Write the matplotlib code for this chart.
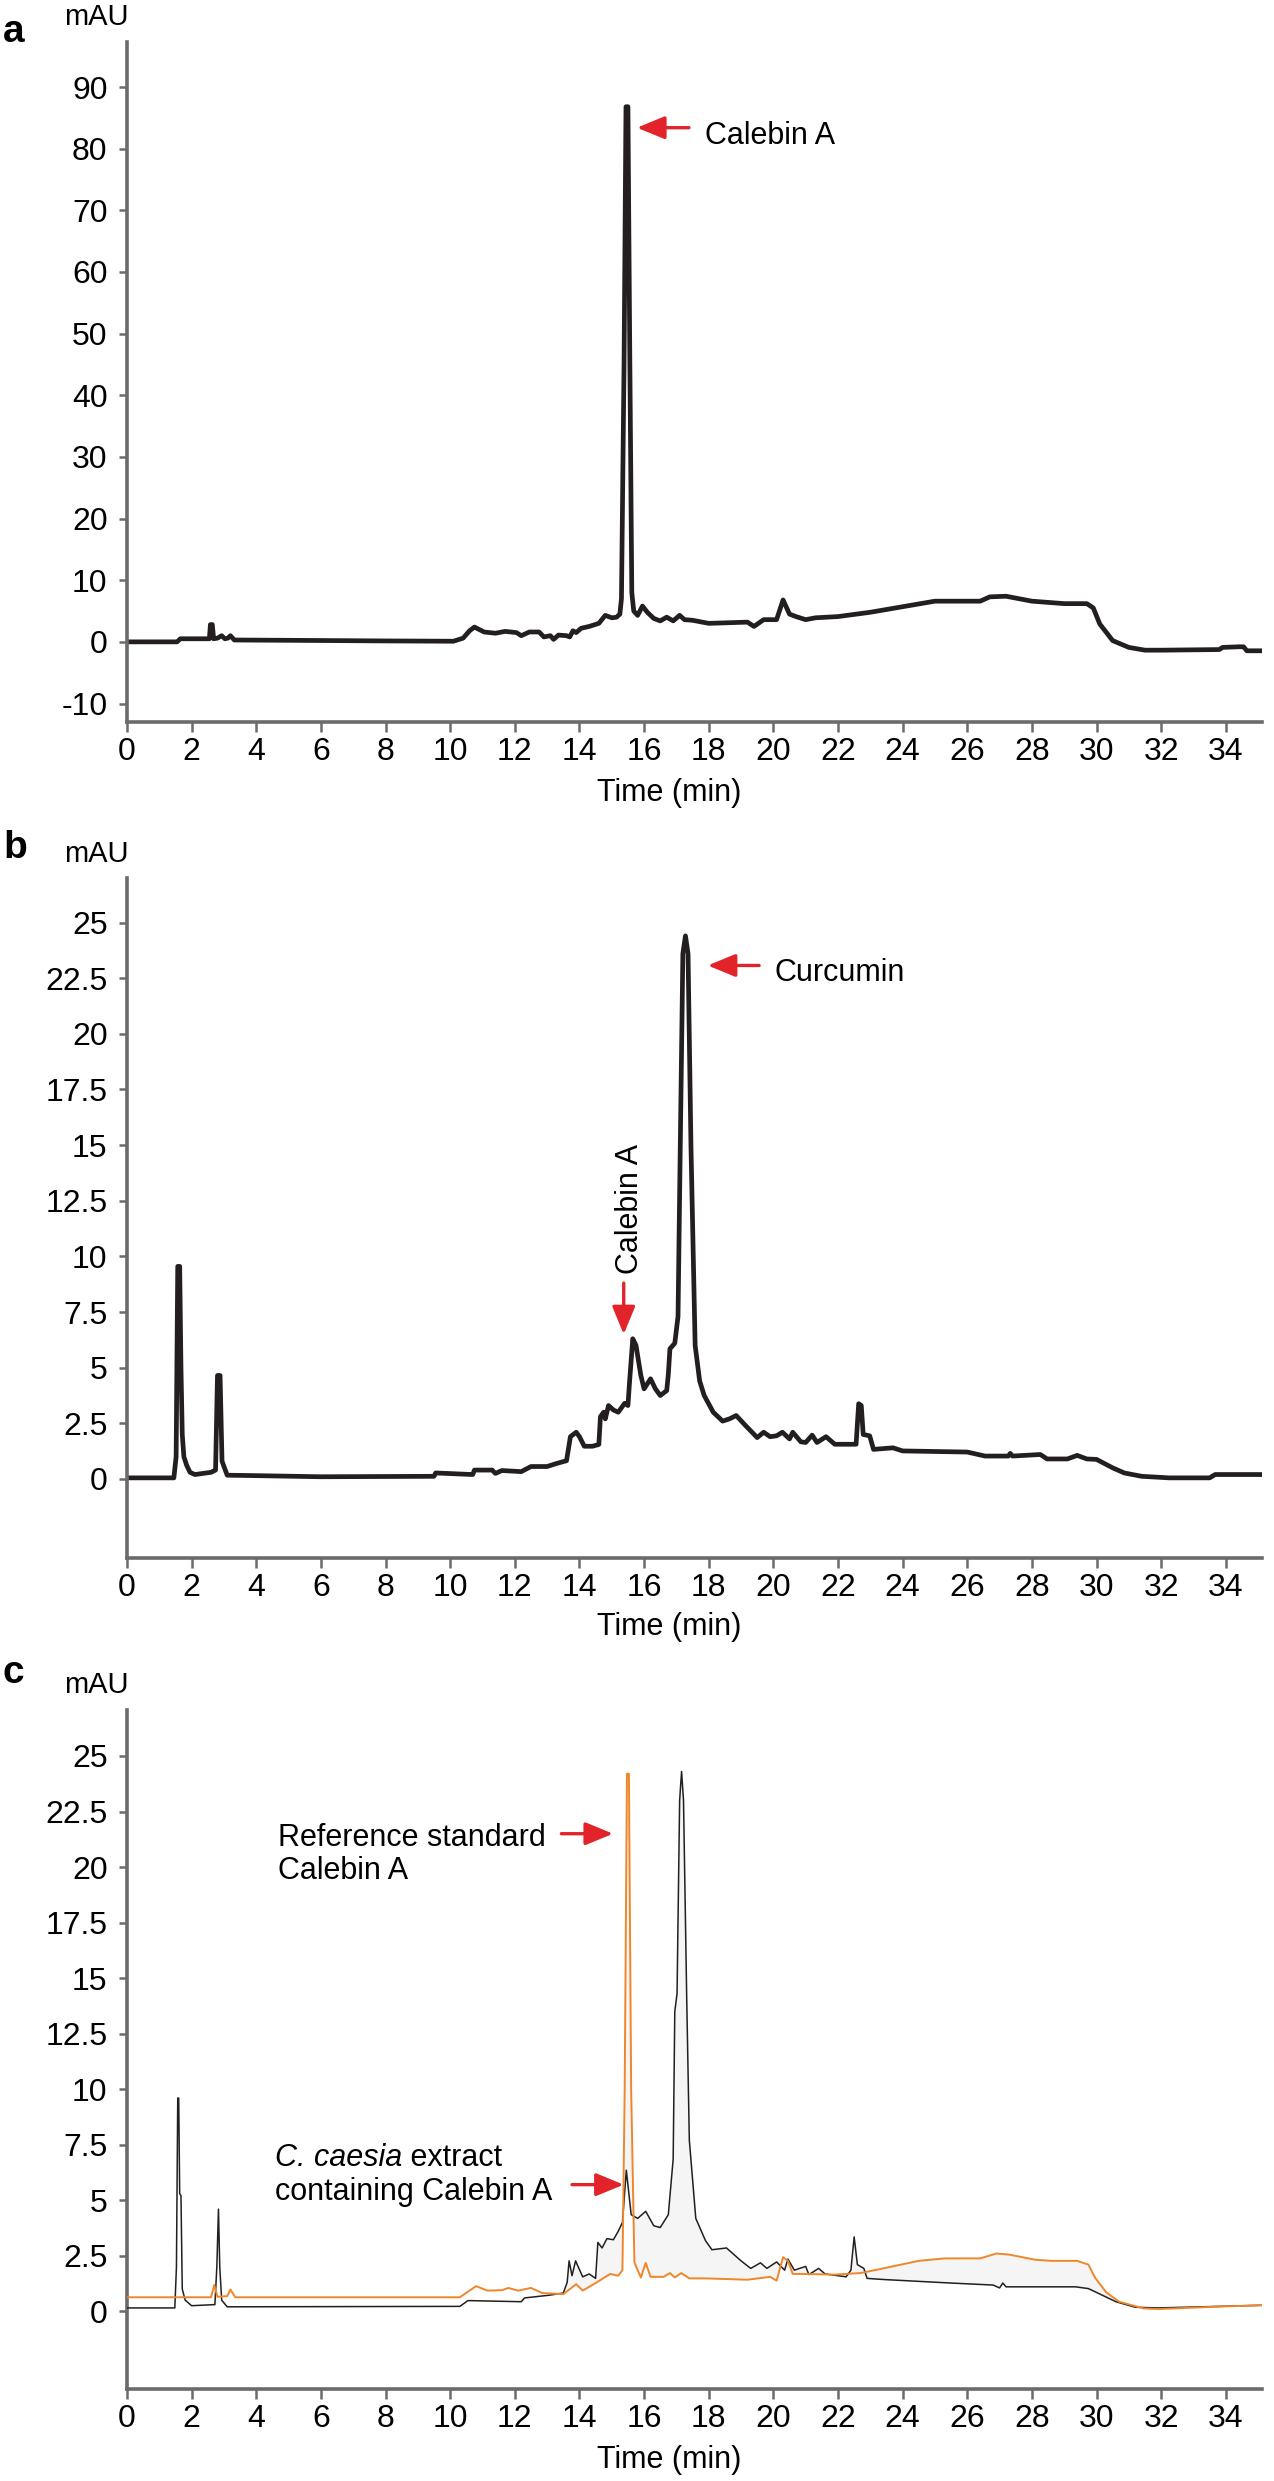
import numpy as np
import matplotlib
matplotlib.use("Agg")
import matplotlib.pyplot as plt

plt.rcParams['font.family'] = ['Liberation Sans', 'DejaVu Sans']

# ---------------- data ----------------
X_TICKS = list(range(0, 35, 2))
Y_TICKS_A = list(range(-10, 91, 10))
Y_TICKS_BC = [0, 2.5, 5, 7.5, 10, 12.5, 15, 17.5, 20, 22.5, 25]
Y_LABELS_BC = ['0', '2.5', '5', '7.5', '10', '12.5', '15', '17.5', '20', '22.5', '25']

# panel a: reference standard Calebin A
TIME_A = [0.0, 1.55, 1.65, 2.55, 2.58, 2.64, 2.68, 2.8, 2.93, 3.03, 3.12, 3.2, 3.32, 5.0, 8.0,
          10.1, 10.4, 10.6, 10.75, 11.05, 11.4, 11.7, 12.05, 12.2, 12.45, 12.75, 12.9, 13.1, 13.2,
          13.35, 13.6, 13.7, 13.8, 13.9, 14.05, 14.3, 14.6, 14.8, 15.0, 15.15, 15.25, 15.3, 15.38,
          15.44, 15.5, 15.56, 15.62, 15.68, 15.8, 15.95, 16.1, 16.3, 16.5, 16.7, 16.9, 17.1, 17.25,
          17.5, 18.0, 19.2, 19.4, 19.7, 20.1, 20.3, 20.5, 20.7, 21.0, 21.3, 22.0, 23.0, 24.0, 25.0,
          26.0, 26.4, 26.7, 27.2, 28.0, 29.0, 29.7, 29.9, 30.1, 30.5, 31.0, 31.5, 32.0, 33.8, 33.9,
          34.4, 34.55, 34.65, 35.12]
MAU_A = [0.0, 0.0, 0.5, 0.5, 2.8, 2.8, 0.5, 0.6, 1.0, 0.5, 0.6, 1.0, 0.3, 0.25, 0.15,
         0.1, 0.6, 1.8, 2.4, 1.6, 1.4, 1.7, 1.5, 1.0, 1.6, 1.6, 0.8, 1.0, 0.4,
         1.1, 1.0, 0.8, 1.8, 1.5, 2.2, 2.5, 3.0, 4.3, 3.9, 4.0, 4.5, 7.0, 45.0,
         86.8, 86.8, 45.0, 8.0, 5.0, 4.3, 5.8, 4.8, 3.8, 3.4, 4.0, 3.4, 4.3, 3.6,
         3.5, 3.0, 3.2, 2.5, 3.6, 3.6, 6.8, 4.5, 4.1, 3.6, 3.9, 4.1, 4.8, 5.7, 6.6,
         6.6, 6.6, 7.3, 7.4, 6.6, 6.2, 6.2, 5.5, 2.9, 0.2, -0.9, -1.35, -1.35, -1.25, -0.9,
         -0.8, -0.8, -1.45, -1.45]

# panel b: C. caesia extract
TIME_B = [0.0, 1.45, 1.52, 1.57, 1.63, 1.67, 1.71, 1.76, 1.85, 1.95, 2.1, 2.6, 2.74, 2.8, 2.88,
          2.94, 3.1, 4.0, 6.0, 9.5, 9.55, 10.7, 10.75, 11.3, 11.4, 11.6, 12.2, 12.5, 13.0, 13.3,
          13.6, 13.72, 13.9, 14.0, 14.15, 14.4, 14.6, 14.65, 14.75, 14.8, 14.9, 15.05, 15.2, 15.4,
          15.5, 15.55, 15.65, 15.75, 15.9, 16.0, 16.2, 16.35, 16.5, 16.7, 16.75, 16.8, 16.95, 17.05,
          17.12, 17.2, 17.28, 17.36, 17.45, 17.58, 17.72, 17.86, 18.14, 18.43, 18.64, 18.85, 19.14,
          19.5, 19.7, 19.9, 20.1, 20.28, 20.5, 20.6, 20.85, 21.0, 21.2, 21.35, 21.63, 21.9, 22.56,
          22.64, 22.72, 22.78, 22.98, 23.1, 23.7, 24.0, 26.0, 26.55, 27.27, 27.33, 27.4, 28.26,
          28.47, 29.1, 29.4, 29.7, 30.0, 30.5, 30.86, 31.4, 32.25, 33.5, 33.67, 35.12]
MAU_B = [0.05, 0.05, 1.0, 9.55, 9.55, 5.0, 2.0, 1.0, 0.6, 0.3, 0.2, 0.3, 0.4, 4.65, 4.65,
         0.8, 0.17, 0.15, 0.1, 0.12, 0.27, 0.2, 0.4, 0.4, 0.25, 0.38, 0.33, 0.56, 0.56, 0.7,
         0.82, 1.9, 2.1, 1.9, 1.47, 1.47, 1.55, 2.8, 3.0, 2.7, 3.3, 3.1, 3.0, 3.4,
         3.3, 4.35, 6.3, 6.0, 4.65, 4.05, 4.5, 4.05, 3.75, 3.97, 4.7, 5.85, 6.1, 7.3,
         15.0, 23.6, 24.4, 23.6, 15.0, 6.0, 4.4, 3.75, 3.0, 2.6, 2.7, 2.85, 2.4,
         1.86, 2.1, 1.9, 1.94, 2.1, 1.8, 2.1, 1.67, 1.64, 1.97, 1.64, 1.9, 1.56, 1.56,
         3.38, 3.3, 2.0, 1.94, 1.33, 1.4, 1.26, 1.21, 1.03, 1.03, 1.15, 1.03, 1.1,
         0.9, 0.9, 1.06, 0.9, 0.88, 0.5, 0.27, 0.12, 0.05, 0.05, 0.2, 0.2]

# panel c: overlay (black = extract, orange = reference standard)
TIME_C_EXT = [0.0, 1.48, 1.53, 1.57, 1.6, 1.63, 1.67, 1.71, 1.8, 2.0, 2.72, 2.78, 2.83, 2.87,
              2.93, 3.1, 10.3, 10.55, 12.2, 12.3, 13.05, 13.5, 13.62, 13.68, 13.77, 13.88, 14.1,
              14.3, 14.5, 14.57, 14.7, 14.85, 15.05, 15.2, 15.33, 15.45, 15.6, 15.8, 16.05, 16.3,
              16.5, 16.75, 16.9, 16.95, 17.02, 17.1, 17.16, 17.22, 17.32, 17.4, 17.6, 17.9, 18.1,
              18.55, 19.0, 19.3, 19.6, 19.8, 20.1, 20.35, 20.45, 20.65, 21.0, 21.1, 21.4, 21.6,
              22.25, 22.4, 22.5, 22.6, 22.8, 22.9, 23.4, 25.5, 26.8, 27.0, 27.1, 27.2, 29.35,
              29.75, 30.6, 31.2, 31.9, 35.12]
MAU_C_EXT = [0.15, 0.15, 2.0, 9.6, 9.6, 5.3, 5.2, 1.0, 0.5, 0.25, 0.3, 2.0, 4.6, 2.0,
             0.5, 0.2, 0.22, 0.48, 0.43, 0.6, 0.72, 0.82, 1.3, 2.27, 1.6, 2.27, 1.55,
             1.68, 1.48, 3.1, 2.85, 3.27, 3.22, 3.6, 4.0, 6.35, 4.35, 4.18, 4.5, 3.85,
             3.77, 4.35, 6.85, 13.5, 14.3, 23.0, 24.3, 23.0, 14.0, 7.7, 4.18, 3.18, 2.77,
             2.85, 2.27, 1.93, 2.18, 1.93, 2.22, 1.85, 2.35, 1.85, 2.02, 1.65, 1.93, 1.68,
             1.55, 1.85, 3.35, 2.1, 1.93, 1.48, 1.43, 1.27, 1.18, 1.05, 1.27, 1.1, 1.1,
             1.02, 0.43, 0.18, 0.15, 0.27]
TIME_C_REF = [0.0, 2.6, 2.7, 2.8, 3.1, 3.2, 3.35, 10.3, 10.8, 11.15, 11.6, 11.8, 12.1, 12.5,
              12.85, 13.5, 13.9, 14.1, 14.5, 14.95, 15.2, 15.33, 15.4, 15.47, 15.53, 15.6, 15.7,
              15.9, 16.05, 16.2, 16.6, 16.8, 16.95, 17.15, 17.4, 17.9, 19.2, 19.9, 20.1, 20.3,
              20.45, 20.6, 20.9, 21.9, 22.7, 23.4, 24.5, 25.3, 26.4, 26.9, 27.3, 28.1, 28.6,
              29.4, 29.75, 29.95, 30.3, 30.7, 31.45, 31.9, 34.0, 35.12]
MAU_C_REF = [0.63, 0.63, 1.18, 0.65, 0.68, 0.98, 0.63, 0.63, 1.13, 0.93, 0.95, 1.05, 0.93, 1.05,
             0.82, 0.77, 1.22, 0.93, 1.27, 1.68, 1.6, 1.85, 10.0, 24.2, 24.2, 10.0, 2.2,
             1.52, 2.18, 1.55, 1.55, 1.72, 1.52, 1.72, 1.48, 1.48, 1.42, 1.55, 1.38, 2.43,
             2.27, 1.68, 1.68, 1.65, 1.72, 1.93, 2.27, 2.38, 2.38, 2.6, 2.55, 2.32, 2.27,
             2.27, 2.1, 1.52, 0.85, 0.43, 0.13, 0.1, 0.22, 0.27]

assert len(TIME_A) == len(MAU_A)
assert len(TIME_B) == len(MAU_B)
assert len(TIME_C_EXT) == len(MAU_C_EXT)
assert len(TIME_C_REF) == len(MAU_C_REF)

# ---------------- style ----------------
W, H = 1274, 2481
AXC = '#6b6b6b'
INK = '#231f20'
ORANGE = '#f0862a'
RED = '#e3232a'
SHADE = '#f5f5f5'
FS = 22
TICKFS = 23

fig = plt.figure(figsize=(W / 100, H / 100), dpi=100)


def make_axes(top, bottom, left=127, right=1262):
    return fig.add_axes([left / W, 1 - bottom / H, (right - left) / W, (bottom - top) / H])


def style(ax, ylim, yticks, ylabels):
    ax.set_xlim(0, 35.12)
    ax.set_ylim(*ylim)
    ax.patch.set_alpha(0)
    for s in ('top', 'right'):
        ax.spines[s].set_visible(False)
    for s in ('left', 'bottom'):
        ax.spines[s].set_color(AXC)
        ax.spines[s].set_linewidth(2.6)
        ax.spines[s].set_capstyle('projecting')
    ax.set_xticks(X_TICKS)
    ax.set_xticklabels([str(v) for v in X_TICKS])
    ax.set_yticks(yticks)
    ax.set_yticklabels(ylabels)
    ax.tick_params(axis='x', length=7, width=1.8, color=AXC, pad=4, labelsize=TICKFS,
                   direction='out')
    ax.tick_params(axis='y', length=6, width=1.8, color=AXC, pad=8, labelsize=TICKFS,
                   direction='out')


def arrow(ax, tail, tip):
    ax.annotate('', xy=tip, xytext=tail,
                arrowprops=dict(arrowstyle='-|>,head_length=0.85,head_width=0.35',
                                color=RED, lw=2.4, shrinkA=0, shrinkB=0,
                                mutation_scale=20))


def ftext(px, py, s, **kw):
    fig.text(px / W, 1 - py / H, s, **kw)


# ---------------- panel a ----------------
axa = make_axes(42, 722)
style(axa, (-13.0, 97.3), Y_TICKS_A, [str(v) for v in Y_TICKS_A])
axa.plot(TIME_A, MAU_A, color=INK, lw=3.4, solid_joinstyle='round', solid_capstyle='round')
arrow(axa, (17.39, 83.4), (15.78, 83.4))
axa.text(17.88, 80.8, 'Calebin A', fontsize=FS, ha='left', va='baseline')

# ---------------- panel b ----------------
axb = make_axes(878, 1558)
style(axb, (-3.55, 27.0), Y_TICKS_BC, Y_LABELS_BC)
axb.plot(TIME_B, MAU_B, color=INK, lw=3.4, solid_joinstyle='round', solid_capstyle='round')
arrow(axb, (19.56, 23.07), (17.97, 23.07))
axb.text(20.05, 22.36, 'Curcumin', fontsize=FS, ha='left', va='baseline')
arrow(axb, (15.37, 8.8), (15.37, 6.5))
axb.text(15.8, 9.2, 'Calebin A', fontsize=FS, rotation=90, rotation_mode='anchor',
         ha='left', va='baseline')

# ---------------- panel c ----------------
axc = make_axes(1710, 2389)
style(axc, (-3.5, 27.07), Y_TICKS_BC, Y_LABELS_BC)
# faint shading between the two traces over the eluting region
grid = np.linspace(13.4, 31.6, 3000)
ext_i = np.interp(grid, TIME_C_EXT, MAU_C_EXT)
ref_i = np.interp(grid, TIME_C_REF, MAU_C_REF)
axc.fill_between(grid, ext_i, ref_i, color=SHADE, lw=0, zorder=1)
axc.plot(TIME_C_EXT, MAU_C_EXT, color=INK, lw=1.1, solid_joinstyle='round', zorder=3)
axc.plot(TIME_C_REF, MAU_C_REF, color=ORANGE, lw=1.4, solid_joinstyle='round', zorder=4)

axc.text(4.66, 20.95, 'Reference standard', fontsize=FS, ha='left', va='baseline')
axc.text(4.66, 19.46, 'Calebin A', fontsize=FS, ha='left', va='baseline')
arrow(axc, (13.44, 21.5), (15.04, 21.5))

t1 = axc.text(4.57, 6.55, 'C. caesia', fontsize=FS, style='italic', ha='left', va='baseline')
axc.annotate(' extract', xy=(1, 0), xycoords=t1, fontsize=FS, ha='left', va='bottom')
axc.text(4.57, 5.02, 'containing Calebin A', fontsize=FS, ha='left', va='baseline')
arrow(axc, (13.77, 5.7), (15.37, 5.7))

# ---------------- figure-level labels ----------------
for letter, base in (('a', 42), ('b', 858), ('c', 1683)):
    ftext(3, base, letter, fontsize=28, fontweight='bold', ha='left', va='baseline')
for base in (25, 862, 1693):
    ftext(96, base, 'mAU', fontsize=21, ha='center', va='baseline')
for cy in (793, 1627, 2460):
    ftext(669, cy, 'Time (min)', fontsize=FS, ha='center', va='center')

fig.savefig('out.png', dpi=100, facecolor='white')
